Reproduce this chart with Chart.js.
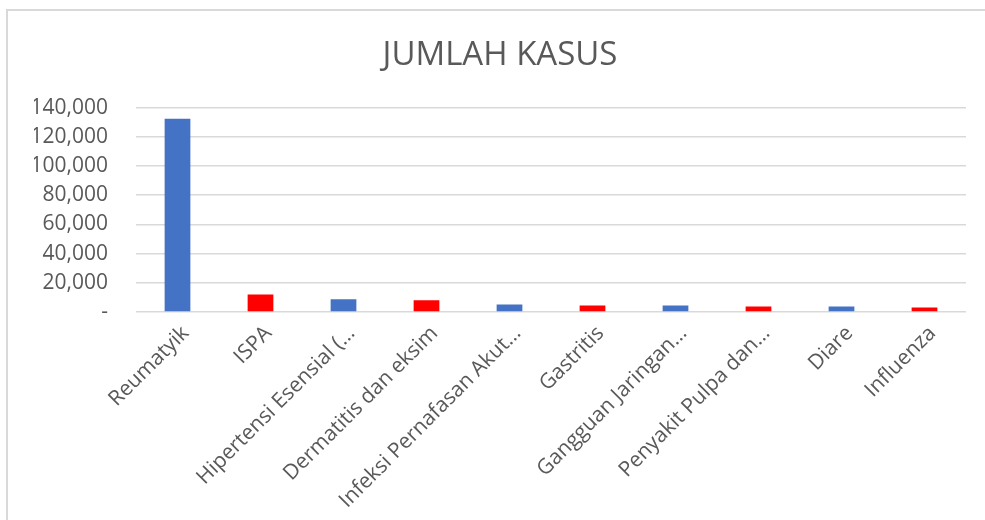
<!DOCTYPE html>
<html>
<head>
<meta charset="utf-8">
<script src="https://cdn.jsdelivr.net/npm/chart.js@4"></script>
<style>
    html, body { margin: 0; padding: 0; background: #fff; overflow: hidden; }
    #wrap { position: relative; width: 985px; height: 520px; }
    #frame {
        position: absolute; left: 6px; top: 9px; width: 1200px; height: 800px;
        border-top: 2px solid #d9d9d9; border-left: 2px solid #d9d9d9;
    }
    #chart { position: absolute; left: 0; top: 0; }
</style>
</head>
<body>
<div id="wrap">
    <div id="frame"></div>
    <canvas id="chart" width="985" height="520"></canvas>
</div>
<script>
// Données du graphique
const categories = [
    'Reumatyik', 'ISPA', 'Hipertensi Esensial (…', 'Dermatitis dan eksim',
    'Infeksi Pernafasan Akut…', 'Gastritis', 'Gangguan Jaringan…',
    'Penyakit Pulpa dan…', 'Diare', 'Influenza'
];
const jumlahKasus = [132400, 12000, 8700, 8000, 5200, 4500, 4500, 3800, 3800, 3100];
const barColors = ['#4472C4', '#FF0000', '#4472C4', '#FF0000', '#4472C4',
                   '#FF0000', '#4472C4', '#FF0000', '#4472C4', '#FF0000'];
const yTicks = [0, 20000, 40000, 60000, 80000, 100000, 120000, 140000];

const textColor = '#595959';
const gridColor = '#d9d9d9';
const fontFamily = '"Open Sans", "Noto Sans", sans-serif';

new Chart(document.getElementById('chart').getContext('2d'), {
    type: 'bar',
    data: {
        labels: categories,
        datasets: [{
            data: jumlahKasus,
            backgroundColor: barColors,
            borderWidth: 0,
            barPercentage: 0.31,
            categoryPercentage: 1
        }]
    },
    options: {
        responsive: false,
        animation: false,
        layout: { padding: { left: 34, right: 19, top: 0, bottom: 0 } },
        plugins: {
            legend: { display: false },
            tooltip: { enabled: false },
            title: {
                display: true,
                text: 'JUMLAH KASUS',
                color: textColor,
                font: { family: fontFamily, size: 33, weight: 'normal', lineHeight: 1.2 },
                padding: { top: 36, bottom: 32 }
            }
        },
        scales: {
            x: {
                grid: { display: false },
                border: { display: false },
                ticks: {
                    color: textColor,
                    font: { family: fontFamily, size: 21 },
                    maxRotation: 45,
                    minRotation: 45,
                    autoSkip: false,
                    padding: 1,
                    labelOffset: 8
                },
                afterFit: (scale) => { scale.height = 208; }
            },
            y: {
                min: 0,
                max: 140000,
                afterBuildTicks: (scale) => {
                    scale.ticks = yTicks.map(v => ({ value: v }));
                },
                grid: { color: gridColor, lineWidth: 1.5, drawTicks: false },
                border: { display: false },
                ticks: {
                    color: textColor,
                    font: { family: fontFamily, size: 21 },
                    padding: 28,
                    callback: (v) => v === 0 ? '-' : v.toLocaleString('en-US')
                },
                afterFit: (scale) => { scale.width = 102; }
            }
        }
    }
});
</script>
</body>
</html>
